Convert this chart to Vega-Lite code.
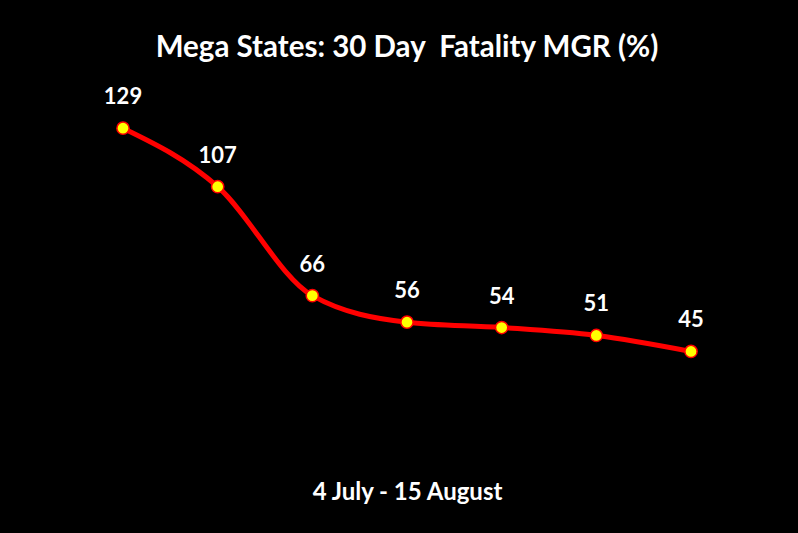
{
  "$schema": "https://vega.github.io/schema/vega-lite/v6.json",
  "autosize": "none",
  "width": 568,
  "height": 372,
  "padding": {"left": 123, "top": 99, "right": 107, "bottom": 62},
  "background": "black",
  "config": {"view": {"stroke": null}, "font": "Lato"},
  "title": {
    "text": "Mega States: 30 Day\u00a0 Fatality MGR (%)",
    "color": "white",
    "font": "Lato",
    "fontSize": 29.5,
    "fontWeight": "bold",
    "anchor": "middle",
    "baseline": "alphabetic",
    "offset": 0
  },
  "data": {
    "values": [
      {"date": "4 Jul", "mgr": 129},
      {"date": "11 Jul", "mgr": 107},
      {"date": "18 Jul", "mgr": 66},
      {"date": "25 Jul", "mgr": 56},
      {"date": "1 Aug", "mgr": 54},
      {"date": "8 Aug", "mgr": 51},
      {"date": "15 Aug", "mgr": 45}
    ]
  },
  "encoding": {
    "x": {
      "field": "date",
      "type": "ordinal",
      "sort": null,
      "scale": {"type": "point", "padding": 0},
      "axis": {
        "title": "4 July - 15 August",
        "labels": false,
        "ticks": false,
        "domain": false,
        "grid": false,
        "titleColor": "white",
        "titleFont": "Lato",
        "titleFontSize": 24,
        "titleFontWeight": "bold",
        "titlePadding": 9
      }
    },
    "y": {
      "field": "mgr",
      "type": "quantitative",
      "scale": {"domain": [0, 140], "nice": false},
      "axis": null
    }
  },
  "layer": [
    {"mark": {"type": "line", "color": "#ff0000", "strokeWidth": 5, "interpolate": "monotone"}},
    {"mark": {"type": "point", "filled": true, "fill": "#ffff00", "stroke": "#ff0000", "strokeWidth": 1.5, "size": 150, "opacity": 1, "shape": "circle"}},
    {
      "mark": {"type": "text", "color": "white", "fontSize": 22, "fontWeight": "bold", "font": "Lato", "dy": -31, "baseline": "middle"},
      "encoding": {"text": {"field": "mgr", "type": "quantitative"}}
    }
  ]
}
